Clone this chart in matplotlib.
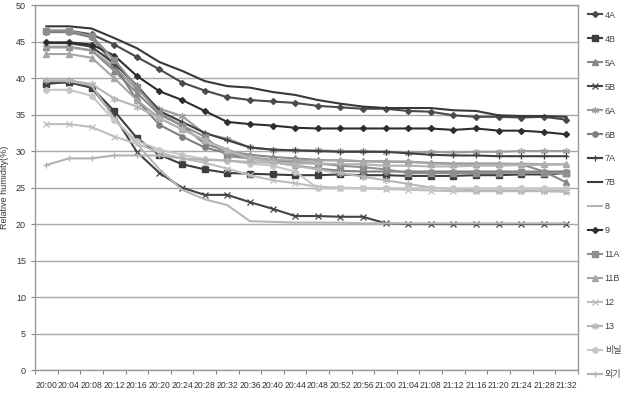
import matplotlib
matplotlib.use("Agg")
import matplotlib.pyplot as plt
import numpy as np

plt.rcParams['font.family'] = ['Liberation Sans', 'Noto Sans CJK KR', 'DejaVu Sans']

times = ["20:00", "20:04", "20:08", "20:12", "20:16", "20:20", "20:24", "20:28",
         "20:32", "20:36", "20:40", "20:44", "20:48", "20:52", "20:56", "21:00",
         "21:04", "21:08", "21:12", "21:16", "21:20", "21:24", "21:28", "21:32"]

s_4A = [46.5, 46.5, 46.0, 44.6, 42.9, 41.2, 39.4, 38.3, 37.4, 37.0, 36.8, 36.6,
        36.2, 36.0, 35.8, 35.8, 35.5, 35.4, 34.9, 34.7, 34.7, 34.6, 34.7, 34.3]
s_4B = [39.2, 39.5, 38.7, 35.5, 31.8, 29.5, 28.2, 27.5, 27.0, 26.9, 26.8, 26.7,
        26.7, 26.8, 26.7, 26.7, 26.6, 26.6, 26.6, 26.7, 26.7, 26.8, 26.8, 27.0]
s_5A = [44.3, 44.3, 43.8, 41.0, 38.0, 35.0, 33.5, 31.0, 30.0, 29.5, 29.2, 29.0,
        28.8, 28.7, 28.6, 28.6, 28.5, 28.4, 28.3, 28.3, 28.3, 28.2, 27.2, 25.7]
s_5B = [39.4, 39.4, 38.7, 34.8, 29.9, 27.0, 25.0, 24.0, 24.0, 23.0, 22.1, 21.1,
        21.1, 21.0, 21.0, 20.1, 20.0, 20.0, 20.0, 20.0, 20.0, 20.0, 20.0, 20.0]
s_6A = [44.2, 44.2, 43.8, 41.5, 38.5, 35.8, 34.8, 32.4, 31.7, 30.5, 30.2, 30.1,
        30.1, 30.0, 30.0, 29.9, 29.8, 29.9, 29.8, 29.9, 29.9, 30.0, 30.0, 30.0]
s_6B = [46.3, 46.3, 45.6, 41.8, 37.0, 33.6, 32.0, 30.5, 29.7, 29.0, 28.5, 28.0,
        27.6, 27.3, 27.2, 27.2, 27.2, 27.2, 27.2, 27.2, 27.2, 27.2, 27.2, 27.2]
s_7A = [44.8, 44.8, 44.3, 42.0, 39.0, 35.5, 34.0, 32.5, 31.5, 30.5, 30.2, 30.1,
        30.0, 29.9, 29.9, 29.9, 29.7, 29.5, 29.4, 29.4, 29.3, 29.3, 29.3, 29.3]
s_7B = [47.1, 47.1, 46.8, 45.5, 44.1, 42.2, 41.0, 39.6, 38.9, 38.7, 38.1, 37.7,
        37.0, 36.5, 36.1, 35.9, 35.9, 35.9, 35.6, 35.5, 34.9, 34.8, 34.8, 34.7]
s_8 = [39.6, 39.6, 39.0, 34.5, 31.0, 27.5, 24.7, 23.4, 22.6, 20.4, 20.3, 20.2,
       20.2, 20.2, 20.1, 20.1, 20.1, 20.1, 20.1, 20.1, 20.1, 20.1, 20.1, 20.1]
s_9 = [44.9, 44.9, 44.6, 43.1, 40.3, 38.2, 37.0, 35.5, 34.0, 33.7, 33.5, 33.2,
       33.1, 33.1, 33.1, 33.1, 33.1, 33.1, 32.9, 33.1, 32.8, 32.8, 32.6, 32.3]
s_11A = [46.5, 46.5, 45.8, 42.5, 38.8, 35.2, 33.5, 32.0, 29.3, 29.0, 28.7, 28.5,
         28.3, 28.0, 27.8, 27.5, 27.0, 27.0, 27.0, 27.0, 27.0, 27.1, 27.0, 27.0]
s_11B = [43.3, 43.3, 42.8, 40.0, 37.0, 34.5, 33.0, 31.5, 30.2, 29.2, 28.8, 28.7,
         28.7, 28.8, 28.6, 28.5, 28.6, 28.3, 28.2, 28.2, 28.2, 28.3, 28.2, 28.2]
s_12 = [33.7, 33.7, 33.3, 32.0, 31.0, 29.8, 29.0, 28.4, 27.6, 26.7, 26.0, 25.6,
        25.1, 25.0, 24.9, 24.8, 24.7, 24.6, 24.5, 24.5, 24.5, 24.5, 24.5, 24.4]
s_13 = [39.7, 39.7, 39.2, 37.2, 36.1, 34.5, 33.0, 31.5, 30.0, 29.0, 28.5, 28.0,
        27.5, 27.0, 26.5, 26.0, 25.5, 25.0, 24.8, 24.6, 24.6, 24.6, 24.6, 24.6]
s_vinyl = [38.4, 38.4, 37.6, 34.2, 31.4, 30.2, 29.5, 28.9, 28.7, 28.3, 28.0, 27.2,
           24.9, 24.9, 24.9, 24.9, 24.9, 24.9, 24.9, 24.9, 24.9, 24.9, 24.9, 24.9]
s_out = [28.1, 29.0, 29.0, 29.4, 29.4, 29.4, 29.0, 28.8, 28.7, 28.5, 28.4, 28.3,
         28.3, 28.2, 28.2, 28.0, 28.0, 27.9, 27.9, 28.0, 28.0, 28.1, 28.1, 28.2]

labels = ["4A", "4B", "5A", "5B", "6A", "6B", "7A", "7B", "8", "9",
          "11A", "11B", "12", "13", "비닐", "외기"]
series = [s_4A, s_4B, s_5A, s_5B, s_6A, s_6B, s_7A, s_7B, s_8, s_9,
          s_11A, s_11B, s_12, s_13, s_vinyl, s_out]

ast = (6, 2, 0)
styles = [
    dict(color="#4a4a4a", marker="D", ms=3),
    dict(color="#3e3e3e", marker="s", ms=3.8),
    dict(color="#888888", marker="^", ms=3.8),
    dict(color="#444444", marker="x", ms=4, mew=0.9),
    dict(color="#9c9c9c", marker=ast, ms=5, mew=0.9),
    dict(color="#7e7e7e", marker="o", ms=3.8),
    dict(color="#404040", marker="+", ms=5, mew=0.9),
    dict(color="#383838", marker=None),
    dict(color="#b6b6b6", marker=None),
    dict(color="#2e2e2e", marker="D", ms=3),
    dict(color="#8e8e8e", marker="s", ms=3.8),
    dict(color="#a6a6a6", marker="^", ms=3.8),
    dict(color="#bebebe", marker="x", ms=4, mew=0.9),
    dict(color="#b6b6b6", marker=ast, ms=5, mew=0.9),
    dict(color="#c6c6c6", marker="o", ms=3.8),
    dict(color="#b2b2b2", marker="+", ms=5, mew=0.9),
]

fig = plt.figure(figsize=(6.26, 3.97), dpi=100)
ax = fig.add_axes([0.056, 0.068, 0.867, 0.919])

x = np.arange(len(times))
for lab, s, st in zip(labels, series, styles):
    ax.plot(x, s, label=lab, lw=1.5, **st)

ax.set_ylim(0, 50)
ax.set_yticks(np.arange(0, 51, 5))
ax.set_xlim(-0.5, len(times) - 0.5)
ax.set_xticks(np.arange(-0.5, len(times), 1.0))
ax.set_xticklabels([])
ax.set_xticks(x, minor=True)
ax.set_xticklabels(times, minor=True, fontsize=6.2, color="#333333")
ax.tick_params(axis="x", which="minor", length=0, pad=8)
ax.tick_params(axis="x", which="major", length=3, color="#888888")
ax.tick_params(axis="y", length=3, color="#888888", labelsize=6.5, labelcolor="#333333")
ax.grid(axis="y", color="#a8a8a8", lw=1)
ax.set_axisbelow(True)
for sp in ax.spines.values():
    sp.set_color("#999999")
    sp.set_linewidth(1)
ax.set_ylabel("Relative humidity(%)", fontsize=6.5, color="#333333", labelpad=5)

leg = ax.legend(loc="upper left", bbox_to_anchor=(1.008, 1.0), frameon=False,
                fontsize=6.5, handlelength=1.6, handletextpad=0.3,
                labelspacing=1.66, borderaxespad=0.2)
for t in leg.get_texts():
    t.set_color("#444444")

fig.savefig("out.png", dpi=100)
